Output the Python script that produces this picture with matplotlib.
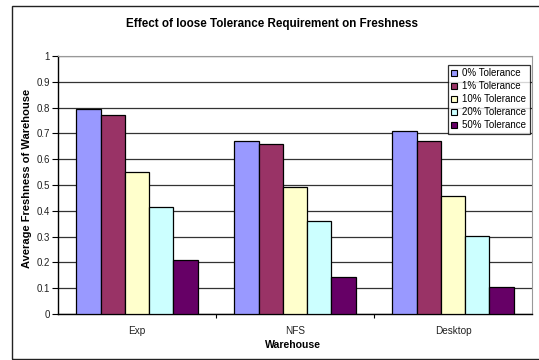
import matplotlib
matplotlib.use("Agg")
import matplotlib.pyplot as plt
from matplotlib.patches import Rectangle, Patch
import numpy as np

plt.rcParams['font.family'] = ['Liberation Sans', 'DejaVu Sans']

categories = ["Exp", "NFS", "Desktop"]
series_names = ["0% Tolerance", "1% Tolerance", "10% Tolerance", "20% Tolerance", "50% Tolerance"]
tol_0 = [0.796, 0.670, 0.708]
tol_1 = [0.773, 0.660, 0.672]
tol_10 = [0.550, 0.494, 0.459]
tol_20 = [0.415, 0.362, 0.304]
tol_50 = [0.208, 0.144, 0.104]
y_ticks = [0, 0.1, 0.2, 0.3, 0.4, 0.5, 0.6, 0.7, 0.8, 0.9, 1]
y_tick_labels = ["0", "0.1", "0.2", "0.3", "0.4", "0.5", "0.6", "0.7", "0.8", "0.9", "1"]

colors = ["#9999FF", "#993366", "#FFFFCC", "#CCFFFF", "#660066"]
series = [tol_0, tol_1, tol_10, tol_20, tol_50]

W, H = 539, 360
fig = plt.figure(figsize=(W / 100, H / 100), dpi=100)
fig.patch.set_facecolor("white")

# outer chart frame
fig.patches.append(Rectangle((12 / W, 1 / H), 600 / W, 353 / H, transform=fig.transFigure,
                             fill=False, edgecolor="#222222", linewidth=1.0))

ax = fig.add_axes([58 / W, (H - 314) / H, 474 / W, 258 / H])

x = np.arange(len(categories))
bw = 0.154
for i, (vals, c) in enumerate(zip(series, colors)):
    offs = (i - 2) * bw
    ax.bar(x + offs, vals, width=bw, color=c, edgecolor="black", linewidth=0.9, zorder=3)

ax.set_xlim(-0.5, 2.5)
ax.set_ylim(0, 1)
ax.set_yticks(y_ticks)
ax.set_yticklabels(y_tick_labels)
ax.yaxis.grid(True, color="#333333", linewidth=0.9, zorder=0)
ax.set_axisbelow(True)

ax.set_xticks(x)
ax.set_xticklabels(categories)
ax.tick_params(axis="x", which="major", length=0, pad=8.5, labelsize=7.2, labelcolor="#222222")
ax.set_xticks([0.5, 1.5], minor=True)
ax.tick_params(axis="x", which="minor", length=3, width=0.8, direction="out", color="black")
ax.tick_params(axis="y", length=4, width=0.8, direction="out", labelsize=7, labelcolor="#222222", pad=2)

for side in ["top", "right"]:
    ax.spines[side].set_color("#999999")
    ax.spines[side].set_linewidth(0.8)
for side in ["left", "bottom"]:
    ax.spines[side].set_color("black")
    ax.spines[side].set_linewidth(1.0)

fig.text(293 / W, 1 - 345 / H, "Warehouse", ha="center", va="center",
         fontsize=7.6, fontweight="bold")
fig.text(27 / W, 1 - 178 / H, "Average Freshness of Warehouse", ha="center", va="center",
         rotation=90, fontsize=8, fontweight="bold")

fig.text(272 / W, 1 - 24 / H, "Effect of loose Tolerance Requirement on Freshness",
         ha="center", va="center", fontsize=8.4, fontweight="bold")

handles = [Patch(facecolor=c, edgecolor="black", linewidth=0.8) for c in colors]
leg = fig.legend(handles, series_names, loc="upper left", bbox_to_anchor=(448 / W, 1 - 65 / H),
                 borderaxespad=0, fontsize=7, frameon=True, fancybox=False,
                 handlelength=0.62, handleheight=0.62, handletextpad=0.5, labelspacing=0.31,
                 borderpad=0.35)
leg.get_frame().set_edgecolor("black")
leg.get_frame().set_linewidth(0.9)

fig.savefig("out.png", dpi=100)
